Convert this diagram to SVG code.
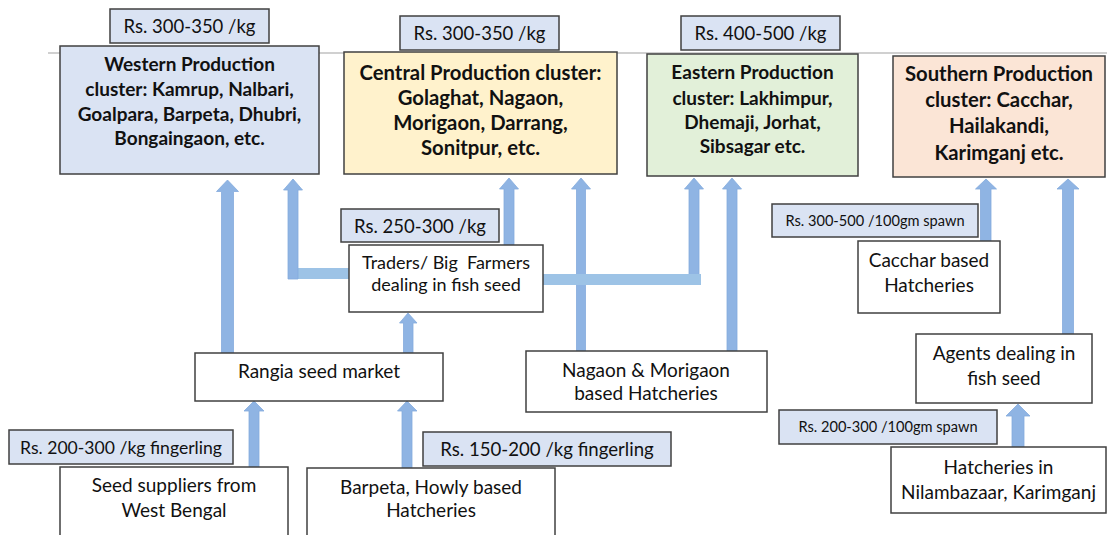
<svg xmlns="http://www.w3.org/2000/svg" width="1107" height="535" viewBox="0 0 1107 535">
  <style>
    .box { fill: #ffffff; stroke: #404040; stroke-width: 1.5; }
    .price { fill: #DAE3F3; stroke: #404040; stroke-width: 1.5; }
    .arrow { fill: #8FB4E3; stroke: #84ABDD; stroke-width: 0.8; }
    .bar { fill: #9DC3E6; }
    text { font-family: Lato, "Open Sans", "Liberation Sans", sans-serif; fill: #111111; text-anchor: middle; dominant-baseline: central; }
    .t { font-size: 19px; }
    .p { font-size: 18.5px; }
    .b { font-size: 19px; font-weight: bold; }
    .bl { font-size: 20.3px; font-weight: bold; }
    .s { font-size: 14.6px; }
    .pre { white-space: pre; }
  </style>
  <rect width="1107" height="535" fill="#ffffff"/>

  <!-- header rule behind the cluster boxes -->
  <line x1="48" y1="53" x2="1107" y2="53" stroke="#D0D0D0" stroke-width="2"/>

  <!-- connectors -->
  <g id="connectors">
    <rect class="bar" x="288" y="268" width="61" height="11"/>
    <polygon class="arrow" points="227.5,180 238.5,191.5 233.5,191.5 233.5,353 221.5,353 221.5,191.5 216.5,191.5"/>
    <polygon class="arrow" points="293,179 302.5,190 298,190 298,279 288,279 288,190 283.5,190"/>
    <polygon class="arrow" points="509,178 518.5,189 514,189 514,245 504,245 504,189 499.5,189"/>
    <polygon class="arrow" points="581,178 590.5,189 585.5,189 585.5,351 576.5,351 576.5,189 571.5,189"/>
    <polygon class="arrow" points="694,178 703.5,189 699,189 699,280 689,280 689,189 684.5,189"/>
    <polygon class="arrow" points="732,178 741.5,189 737,189 737,351 727,351 727,189 722.5,189"/>
    <rect class="bar" x="543" y="274" width="158" height="11"/>
    <polygon class="arrow" points="408,313 417,323 413,323 413,353 403.5,353 403.5,323 399.5,323"/>
    <polygon class="arrow" points="254,401 264,411 259,411 259,467 249,467 249,411 244,411"/>
    <polygon class="arrow" points="407,401 417,411 412,411 412,468 402,468 402,411 397.5,411"/>
    <polygon class="arrow" points="986,179 996.5,189 991,189 991,241 980.5,241 980.5,189 975.5,189"/>
    <polygon class="arrow" points="1068,179 1079,189 1073.5,189 1073.5,334 1062.5,334 1062.5,189 1057,189"/>
    <polygon class="arrow" points="1018,404 1030,416 1024,416 1024,447 1012,447 1012,416 1006,416"/>
  </g>

  <!-- production clusters -->
  <g id="western">
    <rect x="60" y="46" width="259" height="128" fill="#DAE3F3" stroke="#404040" stroke-width="1.5"/>
    <text class="b" x="189.5" y="63">Western Production</text>
    <text class="b" x="189.5" y="88">cluster: Kamrup, Nalbari,</text>
    <text class="b" x="189.5" y="113">Goalpara, Barpeta, Dhubri,</text>
    <text class="b" x="189.5" y="137">Bongaingaon, etc.</text>
  </g>
  <g id="western-price">
    <rect class="price" x="110" y="9" width="159" height="34"/>
    <text class="p" x="189.5" y="26">Rs. 300-350 /kg</text>
  </g>

  <g id="central">
    <rect x="344" y="52" width="273" height="122" fill="#FFF2CC" stroke="#404040" stroke-width="1.5"/>
    <text class="bl" x="480.5" y="72">Central Production cluster:</text>
    <text class="bl" x="480.5" y="97">Golaghat, Nagaon,</text>
    <text class="bl" x="480.5" y="122">Morigaon, Darrang,</text>
    <text class="bl" x="480.5" y="147">Sonitpur, etc.</text>
  </g>
  <g id="central-price">
    <rect class="price" x="400" y="16" width="159" height="34"/>
    <text class="p" x="479.5" y="33">Rs. 300-350 /kg</text>
  </g>

  <g id="eastern">
    <rect x="647" y="54" width="211" height="122" fill="#E2F0D9" stroke="#404040" stroke-width="1.5"/>
    <text class="b" x="752.5" y="71">Eastern Production</text>
    <text class="b" x="752.5" y="97">cluster: Lakhimpur,</text>
    <text class="b" x="752.5" y="121">Dhemaji, Jorhat,</text>
    <text class="b" x="752.5" y="145">Sibsagar etc.</text>
  </g>
  <g id="eastern-price">
    <rect class="price" x="681" y="16" width="159" height="34"/>
    <text class="p" x="760.5" y="33">Rs. 400-500 /kg</text>
  </g>

  <g id="southern">
    <rect x="893" y="56" width="212" height="121" fill="#FBE5D6" stroke="#404040" stroke-width="1.5"/>
    <text class="bl" x="999" y="73">Southern Production</text>
    <text class="bl" x="999" y="99">cluster: Cacchar,</text>
    <text class="bl" x="999" y="125">Hailakandi,</text>
    <text class="bl" x="999" y="152">Karimganj etc.</text>
  </g>

  <!-- intermediaries -->
  <g id="traders">
    <rect class="box" x="349" y="245" width="194" height="67"/>
    <text class="pre" x="446" y="262" style="font-size:18px">Traders/ Big  Farmers</text>
    <text x="446" y="284" style="font-size:18px">dealing in fish seed</text>
  </g>
  <g id="traders-price">
    <rect class="price" x="341" y="209" width="158" height="33"/>
    <text class="p" x="420" y="226">Rs. 250-300 /kg</text>
  </g>

  <g id="rangia">
    <rect class="box" x="195" y="353" width="248" height="48"/>
    <text class="t" x="319" y="370">Rangia seed market</text>
  </g>

  <g id="nagaon">
    <rect class="box" x="526" y="351" width="241" height="61"/>
    <text class="t" x="646" y="369">Nagaon &amp; Morigaon</text>
    <text class="t" x="646" y="392">based Hatcheries</text>
  </g>

  <g id="cacchar">
    <rect class="box" x="858" y="241" width="142" height="72"/>
    <text class="t" x="929" y="259">Cacchar based</text>
    <text class="t" x="929" y="284">Hatcheries</text>
  </g>
  <g id="cacchar-price">
    <rect class="price" x="772" y="204" width="206" height="33"/>
    <text class="s" x="875" y="220">Rs. 300-500 /100gm spawn</text>
  </g>

  <g id="agents">
    <rect class="box" x="916" y="334" width="176" height="69"/>
    <text class="t" x="1004" y="352">Agents dealing in</text>
    <text class="t" x="1004" y="377">fish seed</text>
  </g>

  <!-- sources -->
  <g id="west-bengal">
    <rect class="box" x="60" y="467" width="228" height="80"/>
    <text class="t" x="174" y="484">Seed suppliers from</text>
    <text class="t" x="174" y="509">West Bengal</text>
  </g>
  <g id="west-bengal-price">
    <rect class="price" x="9" y="430" width="224" height="34"/>
    <text x="121" y="447" style="font-size:17.6px">Rs. 200-300 /kg fingerling</text>
  </g>

  <g id="barpeta">
    <rect class="box" x="307" y="468" width="248" height="80"/>
    <text class="t" x="431" y="486">Barpeta, Howly based</text>
    <text class="t" x="431" y="509">Hatcheries</text>
  </g>
  <g id="barpeta-price">
    <rect class="price" x="423" y="432" width="248" height="34"/>
    <text x="547" y="449" style="font-size:18.6px">Rs. 150-200 /kg fingerling</text>
  </g>

  <g id="nilambazaar">
    <rect class="box" x="891" y="447" width="215" height="66"/>
    <text class="t" x="998.5" y="466">Hatcheries in</text>
    <text class="t" x="998.5" y="491">Nilambazaar, Karimganj</text>
  </g>
  <g id="nilambazaar-price">
    <rect class="price" x="779" y="410" width="218" height="34"/>
    <text class="s" x="888" y="426">Rs. 200-300 /100gm spawn</text>
  </g>
</svg>
